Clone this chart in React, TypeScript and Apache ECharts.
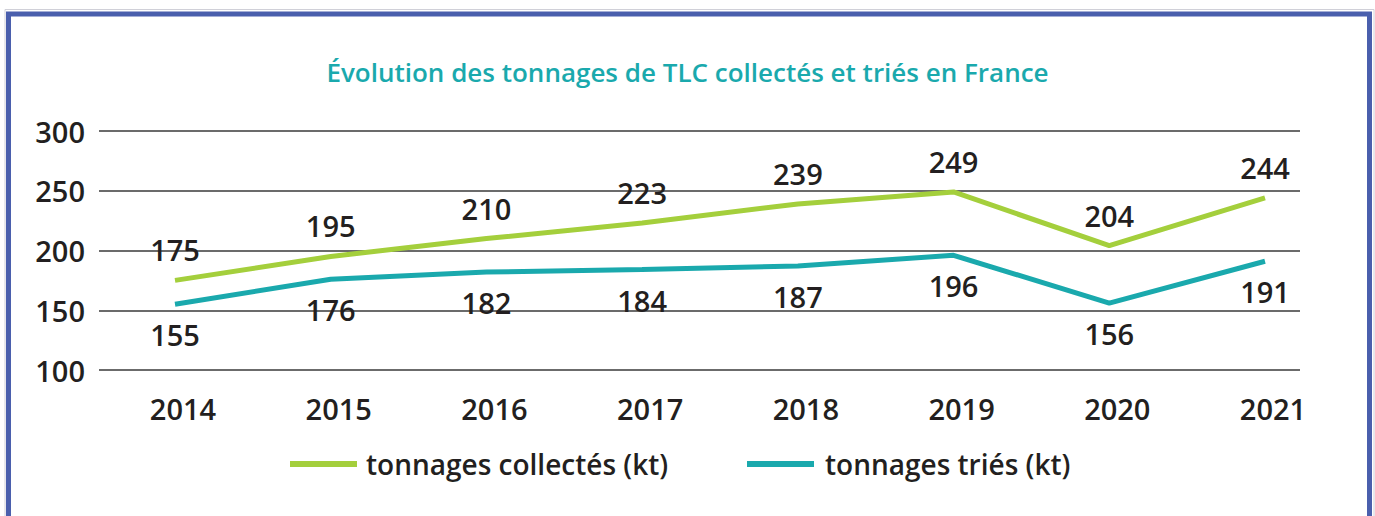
import React, { useEffect, useRef } from "react";
import * as echarts from "echarts";

const years = ["2014", "2015", "2016", "2017", "2018", "2019", "2020", "2021"];
const collectes = [175, 195, 210, 223, 239, 249, 204, 244];
const tries = [155, 176, 182, 184, 187, 196, 156, 191];
const seriesNames = ["tonnages collectés (kt)", "tonnages triés (kt)"];
const titleText = "Évolution des tonnages de TLC collectés et triés en France";

const FONT = "'Open Sans', 'Noto Sans', sans-serif";

export default function App() {
  const ref = useRef<HTMLDivElement>(null);
  useEffect(() => {
    if (!ref.current) return;
    const chart = echarts.init(ref.current, null, { renderer: "svg" });
    const numStyle = { fontFamily: FONT, fontSize: 29, fontWeight: 600, color: "#231f20" };
    const legendText = { fontFamily: FONT, fontSize: 28, fontWeight: 600, color: "#231f20", padding: [0, 0, 0, 4] };
    chart.setOption({
      animation: false,
      backgroundColor: "#ffffff",
      title: {
        text: titleText,
        left: "center",
        top: 54,
        textStyle: { fontFamily: FONT, fontSize: 26, fontWeight: 600, color: "#1aa9ad" },
      },
      legend: [
        {
          left: 285,
          top: 445,
          icon: "rect",
          itemWidth: 67,
          itemHeight: 6,
          data: [seriesNames[0]],
          textStyle: legendText,
        },
        {
          left: 742,
          top: 445,
          icon: "rect",
          itemWidth: 67,
          itemHeight: 6,
          data: [seriesNames[1]],
          textStyle: { ...legendText, padding: [0, 0, 0, 6] },
        },
      ],
      graphic: [
        {
          type: "rect",
          shape: { x: 5, y: 9.5, width: 1369, height: 620 },
          style: { fill: "none", stroke: "#d0d0d8", lineWidth: 1 },
          silent: true,
        },
        {
          type: "rect",
          shape: { x: 8.5, y: 14, width: 1361, height: 620 },
          style: { fill: "none", stroke: "#4a5fad", lineWidth: 5 },
          silent: true,
        },
      ],
      grid: [
        { left: 99, right: 75, top: 131, height: 239 },
        { left: 175, right: 110, top: 131, height: 239 },
      ],
      xAxis: [
        {
          gridIndex: 0,
          type: "category",
          data: years,
          show: false,
        },
        {
          gridIndex: 1,
          type: "category",
          data: years,
          boundaryGap: false,
          axisLine: { show: false },
          axisTick: { show: false },
          axisLabel: { ...numStyle, margin: 24, padding: [0, 0, 0, 16] },
          splitLine: { show: false },
        },
      ],
      yAxis: [
        {
          gridIndex: 0,
          type: "value",
          min: 100,
          max: 300,
          interval: 50,
          axisLine: { show: false },
          axisTick: { show: false },
          axisLabel: { ...numStyle, margin: 14 },
          splitLine: { lineStyle: { color: "#3a3a3a", width: 1.5 } },
        },
        {
          gridIndex: 1,
          type: "value",
          min: 100,
          max: 300,
          interval: 50,
          show: false,
          splitLine: { show: false },
        },
      ],
      series: [
        {
          name: seriesNames[0],
          type: "line",
          xAxisIndex: 1,
          yAxisIndex: 1,
          data: collectes,
          symbol: "circle",
          symbolSize: 0.1,
          showSymbol: true,
          color: "#a4cf3c",
          itemStyle: { color: "#a4cf3c" },
          lineStyle: { width: 5, color: "#a4cf3c" },
          label: { show: true, position: "top", distance: 16, ...numStyle },
        },
        {
          name: seriesNames[1],
          type: "line",
          xAxisIndex: 1,
          yAxisIndex: 1,
          data: tries,
          symbol: "circle",
          symbolSize: 0.1,
          showSymbol: true,
          color: "#1aa9ad",
          itemStyle: { color: "#1aa9ad" },
          lineStyle: { width: 5, color: "#1aa9ad" },
          label: { show: true, position: "bottom", distance: 16, ...numStyle },
        },
      ],
    });
    return () => chart.dispose();
  }, []);
  return (
    <div
      ref={ref}
      style={{ position: "fixed", left: 0, top: 0, width: 1375, height: 516 }}
    />
  );
}
